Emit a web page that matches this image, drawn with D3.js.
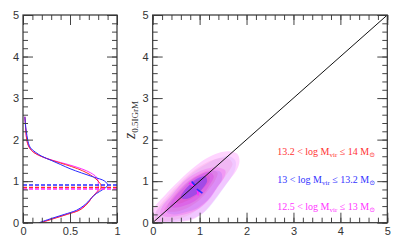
<!DOCTYPE html>
<html>
<head>
<meta charset="utf-8">
<script src="https://cdn.jsdelivr.net/npm/d3@7"></script>
<style>
  body { margin: 0; background: #fff; }
  svg { display: block; font-family: "Liberation Serif", "DejaVu Serif", serif; }
  .tick text { font-size: 11px; fill: #333; }
  .tick line, .domain { stroke: #444; }
</style>
</head>
<body>
<div id="chart"></div>
<script>
// z values where the side histograms were read
const zGrid = [0, 0.1, 0.2, 0.3, 0.4, 0.5, 0.6, 0.7, 0.8, 0.9, 1.0, 1.1, 1.2, 1.3, 1.4, 1.5, 1.6, 1.7, 1.8, 1.9, 2.0, 2.2, 2.4, 2.55];
const densRed     = [0.19, 0.33, 0.47, 0.6, 0.66, 0.7, 0.73, 0.77, 0.82, 0.83, 0.8, 0.75, 0.68, 0.58, 0.45, 0.31, 0.19, 0.11, 0.07, 0.05, 0.04, 0.03, 0.025, 0.02];
const densMagenta = [0.18, 0.32, 0.46, 0.59, 0.65, 0.7, 0.73, 0.77, 0.8, 0.8, 0.8, 0.78, 0.72, 0.62, 0.48, 0.32, 0.19, 0.11, 0.07, 0.05, 0.04, 0.03, 0.025, 0.02];
const densBlue    = [0.17, 0.3, 0.44, 0.57, 0.64, 0.69, 0.73, 0.78, 0.85, 0.9, 0.87, 0.75, 0.62, 0.5, 0.4, 0.3, 0.2, 0.13, 0.08, 0.06, 0.05, 0.035, 0.025, 0.02];

// medians (dashed lines)
const medianRed = 0.85, medianBlue = 0.905, medianMagenta = 0.81;

// contour levels in the main panel, outer -> inner, [x, y]
const contMagenta = [
  [[0,0],[0,0.3],[0.25,0.65],[0.58,1.03],[0.9,1.35],[1.15,1.55],[1.4,1.68],[1.62,1.72],[1.8,1.66],[1.85,1.48],[1.78,1.25],[1.6,0.98],[1.42,0.7],[1.25,0.45],[1.06,0.22],[0.85,0.08],[0.58,0.02],[0.3,0]],
  [[0.16,0.22],[0.2,0.38],[0.4,0.65],[0.65,0.98],[0.9,1.18],[1.15,1.3],[1.4,1.33],[1.55,1.25],[1.52,1.08],[1.38,0.85],[1.2,0.55],[1.0,0.35],[0.75,0.22],[0.45,0.15],[0.25,0.15]],
  [[0.37,0.4],[0.45,0.58],[0.62,0.8],[0.8,1.0],[1.0,1.15],[1.2,1.22],[1.3,1.12],[1.22,0.92],[1.08,0.7],[0.9,0.52],[0.65,0.4],[0.45,0.36]]
];
const contBlue = [
  [[0.1,0.02],[0.05,0.2],[0.25,0.5],[0.55,0.88],[0.85,1.2],[1.15,1.42],[1.4,1.55],[1.62,1.6],[1.76,1.5],[1.76,1.3],[1.65,1.05],[1.48,0.78],[1.3,0.5],[1.1,0.25],[0.85,0.1],[0.5,0.03]],
  [[0.3,0.25],[0.32,0.42],[0.5,0.68],[0.75,0.98],[1.0,1.15],[1.25,1.25],[1.45,1.22],[1.48,1.05],[1.35,0.82],[1.18,0.55],[0.95,0.35],[0.7,0.25],[0.45,0.2]],
  [[0.6,0.62],[0.68,0.78],[0.82,0.95],[0.98,1.08],[1.12,1.12],[1.16,1.0],[1.08,0.85],[0.95,0.7],[0.8,0.6],[0.66,0.57]]
];
const contRed = [
  [[0.05,0.05],[0.08,0.3],[0.3,0.62],[0.6,0.98],[0.9,1.28],[1.15,1.45],[1.4,1.55],[1.6,1.55],[1.7,1.42],[1.6,1.2],[1.42,0.92],[1.25,0.65],[1.05,0.4],[0.8,0.2],[0.5,0.08],[0.25,0.03]],
  [[0.25,0.3],[0.35,0.5],[0.55,0.78],[0.78,1.02],[1.0,1.18],[1.22,1.26],[1.38,1.2],[1.32,1.0],[1.18,0.78],[1.0,0.55],[0.78,0.38],[0.5,0.27]],
  [[0.5,0.5],[0.6,0.68],[0.78,0.9],[0.98,1.05],[1.18,1.15],[1.22,1.02],[1.1,0.85],[0.92,0.65],[0.72,0.52],[0.55,0.46]]
];

// short scatter bars near the peak, [x1, y1, x2, y2]
const barsMagenta = [[0.78, 0.96, 0.89, 0.865], [0.95, 0.8, 0.97, 0.66]];
const barsBlue = [[0.83, 0.99, 0.9, 0.9], [0.94, 0.81, 1.06, 0.71]];

const legendLines = [
  { lo: '13.2', hi: '14', color: '#ff3333' },
  { lo: '13', hi: '13.2', color: '#3333ff' },
  { lo: '12.5', hi: '13', color: '#ff33ff' }
];

const colRed = '#ff2a2a', colBlue = '#2a2aff', colMagenta = '#ff2aff';

const W = 407, H = 240;
const yTop = 15, yBot = 222.7;
const svg = d3.select('#chart').append('svg').attr('width', W).attr('height', H);

function frameAxes(g, x, y, xMaj, xMin, yMaj, yMin, xFmt) {
  const [xa, xb] = x.range(), [ya, yb] = y.range();
  // minor ticks
  g.append('g').attr('transform', `translate(0,${ya})`)
    .call(d3.axisBottom(x).tickValues(xMin).tickSize(-5).tickFormat(''));
  g.append('g').attr('transform', `translate(0,${yb})`)
    .call(d3.axisTop(x).tickValues(xMin).tickSize(-5).tickFormat(''));
  g.append('g').attr('transform', `translate(${xa},0)`)
    .call(d3.axisLeft(y).tickValues(yMin).tickSize(-5).tickFormat(''));
  g.append('g').attr('transform', `translate(${xb},0)`)
    .call(d3.axisRight(y).tickValues(yMin).tickSize(-5).tickFormat(''));
  // major ticks
  g.append('g').attr('transform', `translate(0,${ya})`)
    .call(d3.axisBottom(x).tickValues(xMaj).tickSize(-10).tickPadding(5).tickFormat(xFmt));
  g.append('g').attr('transform', `translate(0,${yb})`)
    .call(d3.axisTop(x).tickValues(xMaj).tickSize(-10).tickFormat(''));
  g.append('g').attr('transform', `translate(${xa},0)`)
    .call(d3.axisLeft(y).tickValues(yMaj).tickSize(-10).tickPadding(4).tickFormat(d3.format('d')));
  g.append('g').attr('transform', `translate(${xb},0)`)
    .call(d3.axisRight(y).tickValues(yMaj).tickSize(-10).tickFormat(''));
  g.selectAll('.domain').remove();
  g.selectAll('.tick line').attr('stroke', '#444').attr('stroke-width', 1);
  g.append('rect')
    .attr('x', xa).attr('y', yb).attr('width', xb - xa).attr('height', ya - yb)
    .attr('fill', 'none').attr('stroke', '#333').attr('stroke-width', 1.2);
}

// ---------- left panel: z distributions ----------
const xL = d3.scaleLinear().domain([0, 1]).range([23, 117]);
const yZ = d3.scaleLinear().domain([0, 5]).range([yBot, yTop]);
const left = svg.append('g');

const curve = d3.line().x(d => xL(d[0])).y(d => yZ(d[1])).curve(d3.curveCatmullRom);
[[densMagenta, colMagenta], [densRed, colRed], [densBlue, colBlue]].forEach(([dens, c]) => {
  left.append('path')
    .attr('d', curve(dens.map((v, i) => [v, zGrid[i]])))
    .attr('fill', 'none').attr('stroke', c).attr('stroke-width', 1);
});
[[medianBlue, colBlue], [medianRed, colRed], [medianMagenta, colMagenta]].forEach(([m, c]) => {
  left.append('line')
    .attr('x1', xL(0)).attr('x2', xL(1)).attr('y1', yZ(m)).attr('y2', yZ(m))
    .attr('stroke', c).attr('stroke-width', 1.5).attr('stroke-dasharray', '4,2');
});
frameAxes(left, xL, yZ, [0, 0.5, 1], d3.range(0, 1.001, 0.1), d3.range(0, 6), d3.range(0, 5.01, 0.2), d => d === 0.5 ? '0.5' : d3.format('d')(d));

// ---------- right panel: contours ----------
const xR = d3.scaleLinear().domain([0, 5]).range([152.7, 387.3]);
const right = svg.append('g');
right.append('clipPath').attr('id', 'clipR').append('rect')
  .attr('x', xR(0)).attr('y', yTop).attr('width', xR(5) - xR(0)).attr('height', yBot - yTop);
const cg = right.append('g').attr('clip-path', 'url(#clipR)');
const shape = d3.line().x(d => xR(d[0])).y(d => yZ(d[1])).curve(d3.curveCatmullRomClosed);
// fill opacity per level (outer, middle, inner)
[[contMagenta, colMagenta, [0.2, 0.22, 0.3]],
 [contRed, '#ff3d8a', [0.1, 0.16, 0.22]],
 [contBlue, '#4a30ff', [0.08, 0.12, 0.4]]].forEach(([levels, c, ops]) => {
  cg.selectAll(null).data(levels).join('path')
    .attr('d', shape).attr('fill', c).attr('fill-opacity', (d, i) => ops[i]).attr('stroke', 'none');
});
[[barsMagenta, colMagenta], [barsBlue, colBlue]].forEach(([bars, c]) => {
  cg.selectAll(null).data(bars).join('line')
    .attr('x1', d => xR(d[0])).attr('y1', d => yZ(d[1]))
    .attr('x2', d => xR(d[2])).attr('y2', d => yZ(d[3]))
    .attr('stroke', c).attr('stroke-width', 1.6);
});
cg.append('line')
  .attr('x1', xR(0)).attr('y1', yZ(0)).attr('x2', xR(5)).attr('y2', yZ(5))
  .attr('stroke', '#111').attr('stroke-width', 1);
frameAxes(right, xR, yZ, d3.range(0, 6), d3.range(0, 5.01, 0.2), d3.range(0, 6), d3.range(0, 5.01, 0.2), d3.format('d'));

// y label
const yl = svg.append('text')
  .attr('transform', 'translate(135,120) rotate(-90)')
  .attr('text-anchor', 'middle').attr('fill', '#333');
yl.append('tspan').attr('font-size', 16).attr('font-style', 'italic').text('z');
yl.append('tspan').attr('font-size', 9).attr('dy', 3).text('0.5IGrM');

// legend
legendLines.forEach((l, i) => {
  const t = svg.append('text')
    .attr('x', 375).attr('y', 155 + i * 27.5)
    .attr('text-anchor', 'end').attr('font-size', 10).attr('fill', l.color);
  t.append('tspan').text(`${l.lo} < log M`);
  t.append('tspan').attr('font-size', 7).attr('dy', 2).text('vir');
  t.append('tspan').attr('dy', -2).text(` ≤ ${l.hi} M`);
  t.append('tspan').attr('font-size', 7).attr('dy', 2).text('⊙');
});
</script>
</body>
</html>
